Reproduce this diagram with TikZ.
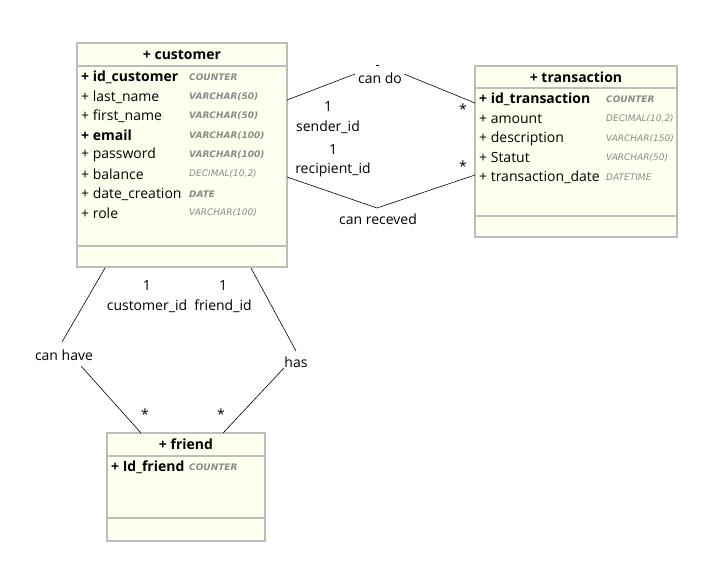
\documentclass[tikz,border=0pt]{standalone}
\usepackage{fontspec}
\setmainfont{Open Sans}
\newfontfamily\typefont{DejaVu Sans}
\definecolor{boxfill}{HTML}{FFFFF0}
\definecolor{boxline}{HTML}{BDBDBD}
\definecolor{typecol}{HTML}{8A8A8A}
\begin{document}
\begin{tikzpicture}[x=1pt,y=-1pt,
  entity/.style={draw=boxline, fill=boxfill, line width=1.6pt, inner sep=0pt,
                 outer sep=0pt, anchor=north west},
  sepline/.style={draw=boxline, line width=1.6pt},
  title/.style={font=\fontsize{14}{16}\selectfont\bfseries, inner sep=0pt},
  attr/.style={font=\fontsize{14}{16}\selectfont, anchor=west, inner sep=0pt},
  key/.style={attr, font=\fontsize{14}{16}\selectfont\bfseries},
  dtype/.style={font=\typefont\fontsize{9}{11}\selectfont\itshape, text=typecol, anchor=west, inner sep=0pt},
  dtypeb/.style={dtype, font=\typefont\fontsize{9}{11}\selectfont\itshape\bfseries},
  conn/.style={draw=black, line width=0.6pt},
  rel/.style={font=\fontsize{14}{16}\selectfont, inner sep=0pt},
  mult/.style={font=\fontsize{14}{16}\selectfont, inner sep=0pt}
]
\useasboundingbox (0,0) rectangle (720,577);

% ---------- customer ----------
\node[entity, minimum width=210pt, minimum height=224pt] (customer) at (77,43) {};
\draw[sepline] (77,66) -- (287,66);
\draw[sepline] (77,246) -- (287,246);
\node[title] (customer-title) at (182,55) {+ customer};
\node[key]  (c1) at (81,77.5) {+ id\_customer};
\node[attr] (c2) at (81,97) {+ last\_name};
\node[attr] (c3) at (81,116) {+ first\_name};
\node[key]  (c4) at (81,135.5) {+ email};
\node[attr] (c5) at (81,155) {+ password};
\node[attr] (c6) at (81,174) {+ balance};
\node[attr] (c7) at (81,194) {+ date\_creation};
\node[attr] (c8) at (81,213) {+ role};
\node[dtypeb] (ct1) at (189,77.5) {COUNTER};
\node[dtypeb] (ct2) at (189,97) {VARCHAR(50)};
\node[dtypeb] (ct3) at (189,116) {VARCHAR(50)};
\node[dtypeb] (ct4) at (189,135.5) {VARCHAR(100)};
\node[dtypeb] (ct5) at (189,155) {VARCHAR(100)};
\node[dtype]  (ct6) at (189,174) {DECIMAL(10,2)};
\node[dtypeb] (ct7) at (189,194) {DATE};
\node[dtype]  (ct8) at (189,213) {VARCHAR(100)};

% ---------- transaction ----------
\node[entity, minimum width=202pt, minimum height=171pt] (transaction) at (475,66) {};
\draw[sepline] (475,88) -- (677,88);
\draw[sepline] (475,216) -- (677,216);
\node[title] (transaction-title) at (576,77.5) {+ transaction};
\node[key]  (t1) at (479,99.5) {+ id\_transaction};
\node[attr] (t2) at (479,119) {+ amount};
\node[attr] (t3) at (479,138.5) {+ description};
\node[attr] (t4) at (479,158) {+ Statut};
\node[attr] (t5) at (479,177.5) {+ transaction\_date};
\node[dtypeb] (tt1) at (606,99.5) {COUNTER};
\node[dtype]  (tt2) at (606,119) {DECIMAL(10,2)};
\node[dtype]  (tt3) at (606,138.5) {VARCHAR(150)};
\node[dtype]  (tt4) at (606,158) {VARCHAR(50)};
\node[dtype]  (tt5) at (606,177.5) {DATETIME};

% ---------- friend ----------
\node[entity, minimum width=158pt, minimum height=108pt] (friend) at (107,433) {};
\draw[sepline] (107,456) -- (265,456);
\draw[sepline] (107,518) -- (265,518);
\node[title] (friend-title) at (186,444) {+ friend};
\node[key]   (f1) at (111,467) {+ Id\_friend};
\node[dtypeb] (ft1) at (189,467) {COUNTER};

% ---------- connector end points ----------
\coordinate (do-c) at (287,100);
\coordinate (do-l) at (355,74);
\coordinate (do-r) at (404,74);
\coordinate (do-t) at (475,103);
\coordinate (rc-c) at (287,177);
\coordinate (rc-m) at (377,208);
\coordinate (rc-t) at (475,175);
\coordinate (hv-c) at (105,268);
\coordinate (hv-u) at (62,342);
\coordinate (hv-d) at (81,366);
\coordinate (hv-f) at (141,433);
\coordinate (hs-c) at (251,268);
\coordinate (hs-u) at (296,351);
\coordinate (hs-d) at (284,368);
\coordinate (hs-f) at (223,433);

% ---------- relationships ----------
\node[rel] (cando) at (380,78) {can do};
\draw[conn] (do-c) -- (do-l);
\draw[conn] (do-r) -- (do-t);
\draw[conn] (375.5,65) -- (378.5,65);

\draw[conn] (rc-c) -- (rc-m) -- (rc-t);
\node[rel] (canrec) at (378,219) {can receved};

\node[rel] (canhave) at (64,355) {can have};
\draw[conn] (hv-c) -- (hv-u);
\draw[conn] (hv-d) -- (hv-f);

\node[rel] (has) at (296,362) {has};
\draw[conn] (hs-c) -- (hs-u);
\draw[conn] (hs-d) -- (hs-f);

% ---------- multiplicities and roles ----------
\node[mult] (m1) at (328,107) {1};
\node[mult] (r1) at (328,127) {sender\_id};
\node[mult] (m2) at (463,109) {*};
\node[mult] (m3) at (333,150) {1};
\node[mult] (r3) at (333,170) {recipient\_id};
\node[mult] (m4) at (463,166) {*};
\node[mult] (m5) at (147,286) {1};
\node[mult] (r5) at (147,306) {customer\_id};
\node[mult] (m6) at (223,286) {1};
\node[mult] (r6) at (223,306) {friend\_id};
\node[mult] (m7) at (145,414) {*};
\node[mult] (m8) at (221,414) {*};
\end{tikzpicture}
\end{document}
